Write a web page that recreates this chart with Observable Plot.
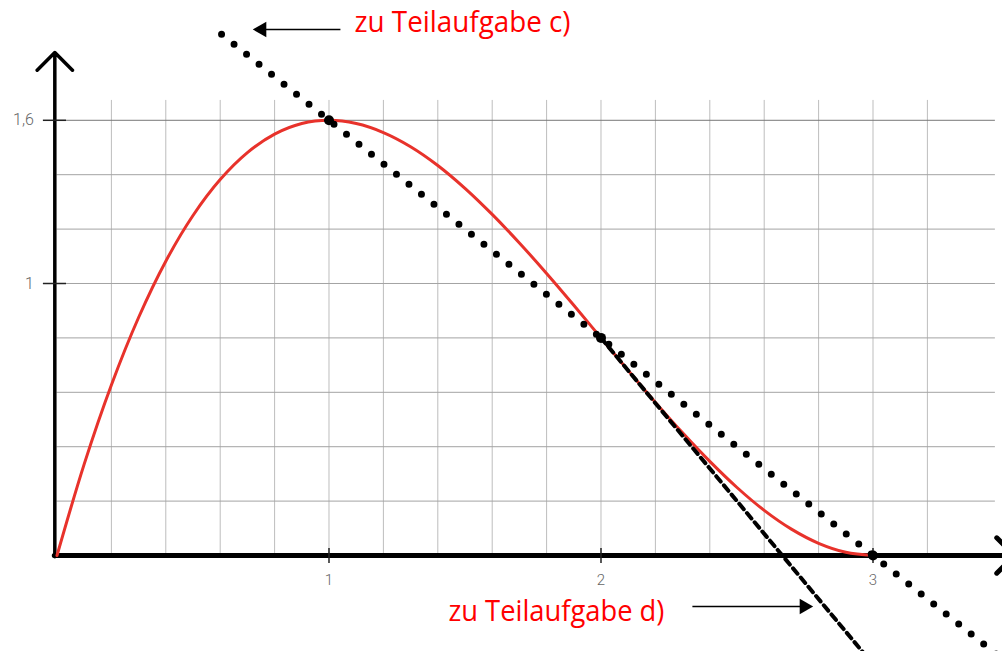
<!DOCTYPE html>
<html>
<head>
<meta charset="utf-8">
<script src="https://cdn.jsdelivr.net/npm/d3@7"></script>
<script src="https://cdn.jsdelivr.net/npm/@observablehq/plot@0.6"></script>
<style>
  html, body { margin: 0; padding: 0; background: #fff; }
  #chart svg { display: block; }
</style>
</head>
<body>
<div id="chart"></div>
<script>
// f(x)
const curveX = [0, 0.1, 0.2, 0.3, 0.4, 0.5, 0.6, 0.7, 0.8, 0.9, 1.0, 1.1, 1.2, 1.3, 1.4, 1.5,
                1.6, 1.7, 1.8, 1.9, 2.0, 2.1, 2.2, 2.3, 2.4, 2.5, 2.6, 2.7, 2.8, 2.9, 3.0];
const curveY = [0, 0.336, 0.627, 0.875, 1.082, 1.25, 1.382, 1.481, 1.549, 1.588, 1.6, 1.588, 1.555, 1.503, 1.434, 1.35,
                1.254, 1.149, 1.037, 0.92, 0.8, 0.68, 0.563, 0.451, 0.346, 0.25, 0.166, 0.097, 0.045, 0.012, 0];

// highlighted points on the graph
const pointX = [1, 2, 3];
const pointY = [1.6, 0.8, 0];

// dotted line through the maximum and the zero (part c)
const secantX = [0.605, 3.5];
const secantY = [1.916, -0.4];

// dashed tangent at the inflection point (part d)
const tangentX = [2.0, 3.0];
const tangentY = [0.8, -0.4];

// axis ticks and labels
const xTicks = [1, 2, 3];
const xTickLabels = ["1", "2", "3"];
const yTicks = [1, 1.6];
const yTickLabels = ["1", "1,6"];

// grid
const gridX = [0.2, 0.4, 0.6, 0.8, 1.0, 1.2, 1.4, 1.6, 1.8, 2.0, 2.2, 2.4, 2.6, 2.8, 3.0, 3.2];
const gridY = [0.2, 0.4, 0.6, 0.8, 1.0, 1.2, 1.4];
const gridTop = [1.6];

// annotations
const noteLabels = ["zu Teilaufgabe c)", "zu Teilaufgabe d)"];
const noteX = [1.094, 1.439];
const noteY = [1.957, -0.205];
const arrowFromX = [1.042, 2.336];
const arrowToX = [0.755, 2.733];
const arrowY = [1.934, -0.1875];
const arrowHeadX = [0.753, 2.747];
const arrowHeadDir = [-90, 90];

const curve = curveX.map((x, i) => ({x, y: curveY[i]}));
const points = pointX.map((x, i) => ({x, y: pointY[i]}));
const secant = secantX.map((x, i) => ({x, y: secantY[i]}));
const tangent = tangentX.map((x, i) => ({x, y: tangentY[i]}));
const xLabels = xTicks.map((x, i) => ({x, label: xTickLabels[i]}));
const yLabels = yTicks.map((y, i) => ({y, label: yTickLabels[i]}));
const notes = noteLabels.map((label, i) => ({label, x: noteX[i], y: noteY[i]}));
const pointers = arrowFromX.map((x1, i) => ({x1, x2: arrowToX[i], y: arrowY[i], hx: arrowHeadX[i], rot: arrowHeadDir[i]}));

const plot = Plot.plot({
  width: 1002,
  height: 651,
  margin: 0,
  x: {domain: [-0.2077, 3.4761], axis: null},
  y: {domain: [-0.3529, 2.0404], axis: null},
  style: {background: "#fff"},
  marks: [
    // grid
    Plot.ruleX(gridX, {y1: 0, y2: 1.673, stroke: "#bdbdbd", strokeWidth: 1}),
    Plot.ruleY(gridY, {x1: 0, x2: 3.45, stroke: "#a3a3a3", strokeWidth: 1}),
    Plot.ruleY(gridTop, {x1: 0, x2: 3.45, stroke: "#777", strokeWidth: 1}),

    // axes with arrow heads
    Plot.arrow([0], {x1: -0.01, y1: 0, x2: 3.52, y2: 0, stroke: "#000", strokeWidth: 5, headAngle: 90, headLength: 7.5}),
    Plot.arrow([0], {x1: -0.008, y1: -0.005, x2: -0.008, y2: 1.849, stroke: "#000", strokeWidth: 3.5, headAngle: 90, headLength: 10.7}),

    // ticks
    Plot.ruleX(xTicks, {y1: 0.026, y2: -0.029, stroke: "#222", strokeWidth: 1.5}),
    Plot.ruleY(yTicks, {x1: -0.05, x2: 0.035, stroke: "#222", strokeWidth: 1.5}),
    Plot.text(xLabels, {x: "x", y: -0.09, text: "label", fontSize: 15, fontFamily: "Roboto", fontWeight: 300, fill: "#666"}),
    Plot.text(yLabels, {x: -0.085, y: "y", text: "label", textAnchor: "end", fontSize: 16, fontFamily: "Roboto", fontWeight: 300, fill: "#666"}),

    // graph of f
    Plot.line(curve, {x: "x", y: "y", curve: "catmull-rom", stroke: "#e8322b", strokeWidth: 3}),

    // tangent and secant
    Plot.line(tangent, {x: "x", y: "y", stroke: "#000", strokeWidth: 4, strokeDasharray: "7 5"}),
    Plot.line(secant, {x: "x", y: "y", stroke: "#000", strokeWidth: 7, strokeDasharray: "0 16", strokeLinecap: "round"}),

    // marked points
    Plot.dot(points, {x: "x", y: "y", r: 5, fill: "#000"}),

    // annotations
    Plot.link(pointers, {x1: "x1", x2: "x2", y1: "y", y2: "y", stroke: "#000", strokeWidth: 1.5}),
    Plot.dot(pointers, {x: "hx", y: "y", symbol: "triangle", r: 5.8, fill: "#000", rotate: "rot"}),
    Plot.text(notes, {x: "x", y: "y", text: "label", textAnchor: "start", fontSize: 29, fontFamily: "Open Sans", fill: "#ff0000"})
  ]
});

// condense the note texts to the narrower label width
plot.querySelectorAll("text").forEach(t => {
  if (t.textContent.startsWith("zu Teilaufgabe")) {
    t.setAttribute("textLength", 216);
    t.setAttribute("lengthAdjust", "spacingAndGlyphs");
  }
});

document.getElementById("chart").appendChild(plot);
</script>
</body>
</html>
